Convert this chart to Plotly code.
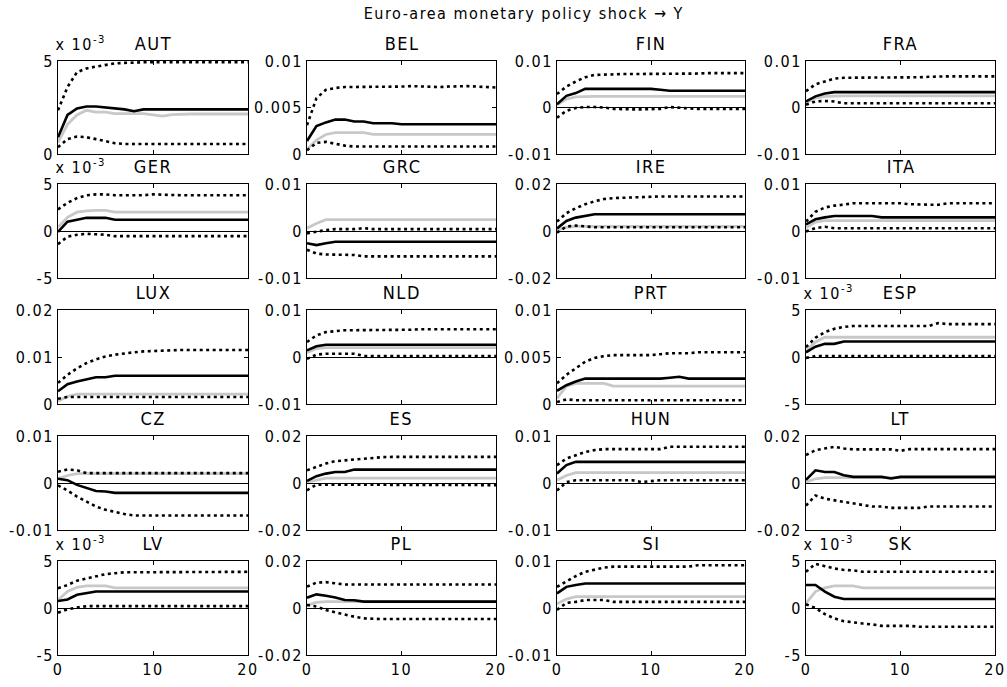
import plotly.graph_objects as go

# ---------------- data (impulse responses, horizons 0..20) ----------------
horizon = list(range(21))

AUT_hi = [2.35e-3, 3.6e-3, 4.4e-3, 4.6e-3, 4.7e-3, 4.8e-3, 4.87e-3, 4.9e-3, 4.93e-3, 4.93e-3, 4.93e-3, 4.93e-3, 4.93e-3, 4.93e-3, 4.93e-3, 4.93e-3, 4.93e-3, 4.93e-3, 4.93e-3, 4.93e-3, 4.93e-3]
AUT_med = [0.9e-3, 2.1e-3, 2.45e-3, 2.55e-3, 2.55e-3, 2.5e-3, 2.45e-3, 2.4e-3, 2.3e-3, 2.4e-3, 2.4e-3, 2.4e-3, 2.4e-3, 2.4e-3, 2.4e-3, 2.4e-3, 2.4e-3, 2.4e-3, 2.4e-3, 2.4e-3, 2.4e-3]
AUT_gray = [0.63e-3, 1.6e-3, 2.1e-3, 2.35e-3, 2.25e-3, 2.25e-3, 2.17e-3, 2.17e-3, 2.17e-3, 2.17e-3, 2.1e-3, 2.04e-3, 2.12e-3, 2.15e-3, 2.15e-3, 2.15e-3, 2.15e-3, 2.15e-3, 2.15e-3, 2.15e-3, 2.15e-3]
AUT_lo = [0.36e-3, 0.8e-3, 0.94e-3, 0.9e-3, 0.8e-3, 0.69e-3, 0.58e-3, 0.54e-3, 0.54e-3, 0.54e-3, 0.54e-3, 0.54e-3, 0.54e-3, 0.54e-3, 0.54e-3, 0.54e-3, 0.54e-3, 0.54e-3, 0.54e-3, 0.54e-3, 0.54e-3]

BEL_hi = [3.1e-3, 6.0e-3, 6.9e-3, 7.1e-3, 7.2e-3, 7.2e-3, 7.2e-3, 7.2e-3, 7.2e-3, 7.2e-3, 7.25e-3, 7.3e-3, 7.25e-3, 7.2e-3, 7.2e-3, 7.25e-3, 7.3e-3, 7.3e-3, 7.25e-3, 7.2e-3, 7.15e-3]
BEL_med = [1.4e-3, 3.0e-3, 3.4e-3, 3.7e-3, 3.7e-3, 3.5e-3, 3.5e-3, 3.3e-3, 3.3e-3, 3.3e-3, 3.2e-3, 3.2e-3, 3.2e-3, 3.2e-3, 3.2e-3, 3.2e-3, 3.2e-3, 3.2e-3, 3.2e-3, 3.2e-3, 3.2e-3]
BEL_gray = [0.5e-3, 1.5e-3, 2.1e-3, 2.3e-3, 2.3e-3, 2.3e-3, 2.3e-3, 2.1e-3, 2.1e-3, 2.1e-3, 2.1e-3, 2.1e-3, 2.1e-3, 2.1e-3, 2.1e-3, 2.1e-3, 2.1e-3, 2.1e-3, 2.1e-3, 2.1e-3, 2.1e-3]
BEL_lo = [0.4e-3, 1.2e-3, 1.3e-3, 1.1e-3, 0.9e-3, 0.8e-3, 0.8e-3, 0.8e-3, 0.8e-3, 0.8e-3, 0.8e-3, 0.8e-3, 0.8e-3, 0.8e-3, 0.8e-3, 0.8e-3, 0.8e-3, 0.8e-3, 0.8e-3, 0.8e-3, 0.8e-3]

FIN_hi = [2.9e-3, 4.5e-3, 5.6e-3, 6.5e-3, 7.0e-3, 7.1e-3, 7.2e-3, 7.2e-3, 7.2e-3, 7.2e-3, 7.2e-3, 7.3e-3, 7.3e-3, 7.3e-3, 7.3e-3, 7.3e-3, 7.4e-3, 7.4e-3, 7.4e-3, 7.4e-3, 7.4e-3]
FIN_med = [0.7e-3, 2.5e-3, 3.1e-3, 4.0e-3, 4.0e-3, 4.0e-3, 4.0e-3, 4.0e-3, 4.0e-3, 4.0e-3, 4.0e-3, 3.8e-3, 3.6e-3, 3.6e-3, 3.6e-3, 3.6e-3, 3.6e-3, 3.6e-3, 3.6e-3, 3.6e-3, 3.6e-3]
FIN_gray = [0.6e-3, 1.8e-3, 2.3e-3, 2.4e-3, 2.4e-3, 2.4e-3, 2.4e-3, 2.4e-3, 2.4e-3, 2.4e-3, 2.4e-3, 2.4e-3, 2.4e-3, 2.4e-3, 2.4e-3, 2.4e-3, 2.4e-3, 2.4e-3, 2.4e-3, 2.4e-3, 2.4e-3]
FIN_lo = [-2.2e-3, -0.7e-3, -0.1e-3, 0.1e-3, 0.1e-3, 0.0, -0.3e-3, -0.4e-3, -0.4e-3, -0.4e-3, -0.4e-3, -0.3e-3, 0.1e-3, -0.1e-3, -0.2e-3, -0.3e-3, -0.3e-3, -0.3e-3, -0.3e-3, -0.3e-3, -0.3e-3]

FRA_hi = [3.5e-3, 5.0e-3, 5.6e-3, 6.2e-3, 6.4e-3, 6.4e-3, 6.4e-3, 6.4e-3, 6.4e-3, 6.4e-3, 6.4e-3, 6.4e-3, 6.5e-3, 6.6e-3, 6.7e-3, 6.7e-3, 6.7e-3, 6.7e-3, 6.7e-3, 6.7e-3, 6.7e-3]
FRA_med = [1.3e-3, 2.4e-3, 3.0e-3, 3.3e-3, 3.3e-3, 3.3e-3, 3.3e-3, 3.3e-3, 3.3e-3, 3.3e-3, 3.3e-3, 3.3e-3, 3.3e-3, 3.3e-3, 3.3e-3, 3.3e-3, 3.3e-3, 3.3e-3, 3.3e-3, 3.3e-3, 3.3e-3]
FRA_gray = [1.1e-3, 2.0e-3, 2.4e-3, 2.5e-3, 2.5e-3, 2.5e-3, 2.5e-3, 2.5e-3, 2.5e-3, 2.5e-3, 2.5e-3, 2.5e-3, 2.5e-3, 2.5e-3, 2.5e-3, 2.5e-3, 2.5e-3, 2.5e-3, 2.5e-3, 2.5e-3, 2.5e-3]
FRA_lo = [0.6e-3, 1.3e-3, 1.4e-3, 1.3e-3, 0.9e-3, 0.9e-3, 0.9e-3, 0.9e-3, 0.9e-3, 0.9e-3, 0.9e-3, 0.9e-3, 0.9e-3, 0.9e-3, 0.9e-3, 0.9e-3, 0.9e-3, 0.9e-3, 0.9e-3, 0.9e-3, 0.9e-3]

GER_hi = [2.3e-3, 3.0e-3, 3.5e-3, 3.8e-3, 3.9e-3, 3.9e-3, 3.8e-3, 3.8e-3, 3.8e-3, 3.8e-3, 3.9e-3, 3.85e-3, 3.8e-3, 3.8e-3, 3.8e-3, 3.8e-3, 3.8e-3, 3.8e-3, 3.8e-3, 3.8e-3, 3.8e-3]
GER_med = [-0.1e-3, 1.0e-3, 1.2e-3, 1.4e-3, 1.4e-3, 1.4e-3, 1.2e-3, 1.2e-3, 1.2e-3, 1.2e-3, 1.2e-3, 1.2e-3, 1.2e-3, 1.2e-3, 1.2e-3, 1.2e-3, 1.2e-3, 1.2e-3, 1.2e-3, 1.2e-3, 1.2e-3]
GER_gray = [0.4e-3, 1.45e-3, 2.0e-3, 2.15e-3, 2.2e-3, 2.2e-3, 2.0e-3, 2.0e-3, 2.0e-3, 2.0e-3, 2.0e-3, 2.0e-3, 2.0e-3, 2.0e-3, 2.0e-3, 2.0e-3, 2.0e-3, 2.0e-3, 2.0e-3, 2.0e-3, 2.0e-3]
GER_lo = [-1.4e-3, -0.6e-3, -0.4e-3, -0.3e-3, -0.35e-3, -0.4e-3, -0.55e-3, -0.55e-3, -0.55e-3, -0.55e-3, -0.55e-3, -0.55e-3, -0.55e-3, -0.55e-3, -0.55e-3, -0.55e-3, -0.55e-3, -0.55e-3, -0.55e-3, -0.55e-3, -0.55e-3]

GRC_hi = [-0.5e-3, -0.1e-3, 0.2e-3, 0.4e-3, 0.4e-3, 0.4e-3, 0.6e-3, 0.4e-3, 0.4e-3, 0.4e-3, 0.4e-3, 0.4e-3, 0.4e-3, 0.4e-3, 0.4e-3, 0.4e-3, 0.4e-3, 0.4e-3, 0.4e-3, 0.4e-3, 0.4e-3]
GRC_med = [-2.6e-3, -3.0e-3, -2.6e-3, -2.3e-3, -2.3e-3, -2.3e-3, -2.3e-3, -2.3e-3, -2.3e-3, -2.3e-3, -2.3e-3, -2.3e-3, -2.3e-3, -2.3e-3, -2.3e-3, -2.3e-3, -2.3e-3, -2.3e-3, -2.3e-3, -2.3e-3, -2.3e-3]
GRC_gray = [0.6e-3, 1.6e-3, 2.4e-3, 2.4e-3, 2.4e-3, 2.4e-3, 2.4e-3, 2.4e-3, 2.4e-3, 2.4e-3, 2.4e-3, 2.4e-3, 2.4e-3, 2.4e-3, 2.4e-3, 2.4e-3, 2.4e-3, 2.4e-3, 2.4e-3, 2.4e-3, 2.4e-3]
GRC_lo = [-4.0e-3, -4.8e-3, -5.0e-3, -5.0e-3, -5.0e-3, -5.1e-3, -5.4e-3, -5.4e-3, -5.4e-3, -5.4e-3, -5.4e-3, -5.4e-3, -5.4e-3, -5.4e-3, -5.4e-3, -5.4e-3, -5.4e-3, -5.4e-3, -5.4e-3, -5.4e-3, -5.4e-3]

IRE_hi = [4.0e-3, 7.6e-3, 9.7e-3, 11.4e-3, 12.6e-3, 13.6e-3, 14.0e-3, 14.2e-3, 14.4e-3, 14.5e-3, 14.7e-3, 14.7e-3, 14.7e-3, 14.7e-3, 14.7e-3, 14.7e-3, 14.7e-3, 14.7e-3, 14.7e-3, 14.7e-3, 14.7e-3]
IRE_med = [1.1e-3, 4.3e-3, 5.7e-3, 6.4e-3, 7.1e-3, 7.1e-3, 7.1e-3, 7.1e-3, 7.1e-3, 7.1e-3, 7.1e-3, 7.1e-3, 7.1e-3, 7.1e-3, 7.1e-3, 7.1e-3, 7.1e-3, 7.1e-3, 7.1e-3, 7.1e-3, 7.1e-3]
IRE_gray = [0.4e-3, 1.6e-3, 2.0e-3, 2.0e-3, 2.0e-3, 2.0e-3, 2.0e-3, 2.0e-3, 2.0e-3, 2.0e-3, 2.0e-3, 2.0e-3, 2.0e-3, 2.0e-3, 2.0e-3, 2.0e-3, 2.0e-3, 2.0e-3, 2.0e-3, 2.0e-3, 2.0e-3]
IRE_lo = [-0.7e-3, 1.9e-3, 2.3e-3, 1.9e-3, 1.6e-3, 1.6e-3, 1.6e-3, 1.6e-3, 1.6e-3, 1.6e-3, 1.6e-3, 1.6e-3, 1.6e-3, 1.6e-3, 1.6e-3, 1.6e-3, 1.6e-3, 1.6e-3, 1.6e-3, 1.6e-3, 1.6e-3]

ITA_hi = [2.0e-3, 4.1e-3, 5.0e-3, 5.4e-3, 5.6e-3, 5.9e-3, 5.9e-3, 5.9e-3, 5.9e-3, 5.9e-3, 5.9e-3, 5.7e-3, 5.6e-3, 5.6e-3, 5.6e-3, 5.9e-3, 5.9e-3, 5.9e-3, 5.9e-3, 5.9e-3, 5.9e-3]
ITA_med = [1.4e-3, 2.5e-3, 2.9e-3, 3.2e-3, 3.2e-3, 3.2e-3, 3.2e-3, 3.2e-3, 2.9e-3, 2.9e-3, 2.9e-3, 2.9e-3, 2.9e-3, 2.9e-3, 2.9e-3, 2.9e-3, 2.9e-3, 2.9e-3, 2.9e-3, 2.9e-3, 2.9e-3]
ITA_gray = [0.7e-3, 1.9e-3, 2.2e-3, 2.2e-3, 2.2e-3, 2.2e-3, 2.2e-3, 2.2e-3, 2.2e-3, 2.2e-3, 2.2e-3, 2.2e-3, 2.2e-3, 2.2e-3, 2.2e-3, 2.2e-3, 2.2e-3, 2.2e-3, 2.2e-3, 2.2e-3, 2.2e-3]
ITA_lo = [-0.1e-3, 0.6e-3, 0.9e-3, 0.6e-3, 0.6e-3, 0.6e-3, 0.6e-3, 0.6e-3, 0.6e-3, 0.6e-3, 0.6e-3, 0.6e-3, 0.6e-3, 0.6e-3, 0.6e-3, 0.6e-3, 0.6e-3, 0.6e-3, 0.6e-3, 0.6e-3, 0.6e-3]

LUX_hi = [4.5e-3, 6.2e-3, 7.6e-3, 8.7e-3, 9.5e-3, 10.1e-3, 10.5e-3, 10.8e-3, 11.0e-3, 11.2e-3, 11.3e-3, 11.4e-3, 11.5e-3, 11.5e-3, 11.5e-3, 11.5e-3, 11.5e-3, 11.5e-3, 11.5e-3, 11.5e-3, 11.5e-3]
LUX_med = [2.7e-3, 4.2e-3, 4.8e-3, 5.3e-3, 5.7e-3, 5.7e-3, 6.0e-3, 6.0e-3, 6.0e-3, 6.0e-3, 6.0e-3, 6.0e-3, 6.0e-3, 6.0e-3, 6.0e-3, 6.0e-3, 6.0e-3, 6.0e-3, 6.0e-3, 6.0e-3, 6.0e-3]
LUX_gray = [0.6e-3, 1.6e-3, 2.1e-3, 2.1e-3, 2.1e-3, 2.1e-3, 2.1e-3, 2.1e-3, 2.1e-3, 2.1e-3, 2.1e-3, 2.1e-3, 2.1e-3, 2.1e-3, 2.1e-3, 2.1e-3, 2.1e-3, 2.1e-3, 2.1e-3, 2.1e-3, 2.1e-3]
LUX_lo = [1.1e-3, 1.5e-3, 1.5e-3, 1.5e-3, 1.5e-3, 1.5e-3, 1.5e-3, 1.5e-3, 1.5e-3, 1.5e-3, 1.5e-3, 1.5e-3, 1.5e-3, 1.5e-3, 1.5e-3, 1.5e-3, 1.5e-3, 1.5e-3, 1.5e-3, 1.5e-3, 1.5e-3]

NLD_hi = [3.2e-3, 4.6e-3, 5.3e-3, 5.5e-3, 5.7e-3, 5.7e-3, 5.7e-3, 5.7e-3, 5.7e-3, 5.7e-3, 5.7e-3, 5.8e-3, 5.9e-3, 5.9e-3, 5.9e-3, 5.9e-3, 5.9e-3, 5.9e-3, 5.9e-3, 5.9e-3, 5.9e-3]
NLD_med = [1.4e-3, 2.3e-3, 2.6e-3, 2.6e-3, 2.6e-3, 2.6e-3, 2.6e-3, 2.6e-3, 2.6e-3, 2.6e-3, 2.6e-3, 2.6e-3, 2.6e-3, 2.6e-3, 2.6e-3, 2.6e-3, 2.6e-3, 2.6e-3, 2.6e-3, 2.6e-3, 2.6e-3]
NLD_gray = [0.9e-3, 1.8e-3, 2.0e-3, 2.0e-3, 2.0e-3, 2.0e-3, 2.0e-3, 2.0e-3, 2.0e-3, 2.0e-3, 2.0e-3, 2.0e-3, 2.0e-3, 2.0e-3, 2.0e-3, 2.0e-3, 2.0e-3, 2.0e-3, 2.0e-3, 2.0e-3, 2.0e-3]
NLD_lo = [-0.4e-3, 0.5e-3, 0.7e-3, 0.7e-3, 0.7e-3, 0.7e-3, 0.2e-3, 0.2e-3, 0.2e-3, 0.2e-3, 0.2e-3, 0.2e-3, 0.2e-3, 0.2e-3, 0.2e-3, 0.2e-3, 0.2e-3, 0.2e-3, 0.2e-3, 0.2e-3, 0.2e-3]

PRT_hi = [2.2e-3, 3.1e-3, 3.8e-3, 4.5e-3, 4.9e-3, 5.1e-3, 5.2e-3, 5.2e-3, 5.2e-3, 5.2e-3, 5.2e-3, 5.3e-3, 5.4e-3, 5.4e-3, 5.4e-3, 5.5e-3, 5.5e-3, 5.5e-3, 5.5e-3, 5.5e-3, 5.5e-3]
PRT_med = [1.4e-3, 2.0e-3, 2.4e-3, 2.7e-3, 2.7e-3, 2.7e-3, 2.7e-3, 2.7e-3, 2.7e-3, 2.7e-3, 2.7e-3, 2.7e-3, 2.8e-3, 2.9e-3, 2.7e-3, 2.7e-3, 2.7e-3, 2.7e-3, 2.7e-3, 2.7e-3, 2.7e-3]
PRT_gray = [0.6e-3, 1.9e-3, 2.2e-3, 2.2e-3, 2.2e-3, 2.2e-3, 1.9e-3, 1.9e-3, 1.9e-3, 1.9e-3, 1.9e-3, 1.9e-3, 1.9e-3, 1.9e-3, 1.9e-3, 1.9e-3, 1.9e-3, 1.9e-3, 1.9e-3, 1.9e-3, 1.9e-3]
PRT_lo = [0.2e-3, 0.5e-3, 0.4e-3, 0.4e-3, 0.4e-3, 0.4e-3, 0.4e-3, 0.4e-3, 0.4e-3, 0.4e-3, 0.4e-3, 0.4e-3, 0.4e-3, 0.4e-3, 0.4e-3, 0.4e-3, 0.4e-3, 0.4e-3, 0.4e-3, 0.4e-3, 0.4e-3]

ESP_hi = [1.05e-3, 2.05e-3, 2.65e-3, 3.0e-3, 3.2e-3, 3.3e-3, 3.3e-3, 3.3e-3, 3.3e-3, 3.3e-3, 3.3e-3, 3.3e-3, 3.3e-3, 3.3e-3, 3.6e-3, 3.5e-3, 3.5e-3, 3.5e-3, 3.5e-3, 3.5e-3, 3.5e-3]
ESP_med = [0.5e-3, 1.1e-3, 1.4e-3, 1.4e-3, 1.65e-3, 1.65e-3, 1.65e-3, 1.65e-3, 1.65e-3, 1.65e-3, 1.65e-3, 1.65e-3, 1.65e-3, 1.65e-3, 1.65e-3, 1.65e-3, 1.65e-3, 1.65e-3, 1.65e-3, 1.65e-3, 1.65e-3]
ESP_gray = [0.65e-3, 1.6e-3, 2.1e-3, 2.1e-3, 2.1e-3, 2.1e-3, 2.1e-3, 2.1e-3, 2.1e-3, 2.1e-3, 2.1e-3, 2.1e-3, 2.1e-3, 2.1e-3, 2.1e-3, 2.1e-3, 2.1e-3, 2.1e-3, 2.1e-3, 2.1e-3, 2.1e-3]
ESP_lo = [-0.1e-3, 0.1e-3, 0.1e-3, 0.1e-3, 0.1e-3, 0.1e-3, 0.1e-3, 0.1e-3, 0.1e-3, 0.1e-3, 0.1e-3, 0.1e-3, 0.1e-3, 0.1e-3, 0.1e-3, 0.1e-3, 0.1e-3, 0.1e-3, 0.1e-3, 0.1e-3, 0.1e-3]

CZ_hi = [2.4e-3, 2.9e-3, 2.7e-3, 2.1e-3, 2.1e-3, 2.1e-3, 2.1e-3, 2.1e-3, 2.1e-3, 2.1e-3, 2.1e-3, 2.1e-3, 2.1e-3, 2.1e-3, 2.1e-3, 2.1e-3, 2.1e-3, 2.1e-3, 2.1e-3, 2.1e-3, 2.1e-3]
CZ_med = [0.9e-3, 0.6e-3, -0.4e-3, -1.1e-3, -1.7e-3, -1.8e-3, -2.1e-3, -2.1e-3, -2.1e-3, -2.1e-3, -2.1e-3, -2.1e-3, -2.1e-3, -2.1e-3, -2.1e-3, -2.1e-3, -2.1e-3, -2.1e-3, -2.1e-3, -2.1e-3, -2.1e-3]
CZ_gray = [0.9e-3, 1.6e-3, 2.0e-3, 2.0e-3, 2.0e-3, 2.0e-3, 2.0e-3, 2.0e-3, 2.0e-3, 2.0e-3, 2.0e-3, 2.0e-3, 2.0e-3, 2.0e-3, 2.0e-3, 2.0e-3, 2.0e-3, 2.0e-3, 2.0e-3, 2.0e-3, 2.0e-3]
CZ_lo = [-0.5e-3, -1.6e-3, -2.9e-3, -4.0e-3, -5.0e-3, -5.7e-3, -6.2e-3, -6.6e-3, -6.9e-3, -6.9e-3, -6.9e-3, -6.9e-3, -6.9e-3, -6.9e-3, -6.9e-3, -6.9e-3, -6.9e-3, -6.9e-3, -6.9e-3, -6.9e-3, -6.9e-3]

ES_hi = [5.4e-3, 6.9e-3, 8.3e-3, 9.3e-3, 9.7e-3, 10.0e-3, 10.4e-3, 10.7e-3, 11.0e-3, 11.1e-3, 11.1e-3, 11.1e-3, 11.1e-3, 11.1e-3, 11.1e-3, 11.1e-3, 11.1e-3, 11.1e-3, 11.1e-3, 11.1e-3, 11.1e-3]
ES_med = [0.9e-3, 2.9e-3, 4.0e-3, 4.7e-3, 4.7e-3, 5.7e-3, 5.7e-3, 5.7e-3, 5.7e-3, 5.7e-3, 5.7e-3, 5.7e-3, 5.7e-3, 5.7e-3, 5.7e-3, 5.7e-3, 5.7e-3, 5.7e-3, 5.7e-3, 5.7e-3, 5.7e-3]
ES_gray = [0.4e-3, 1.4e-3, 2.1e-3, 2.1e-3, 2.1e-3, 2.1e-3, 2.1e-3, 2.1e-3, 2.1e-3, 2.1e-3, 2.1e-3, 2.1e-3, 2.1e-3, 2.1e-3, 2.1e-3, 2.1e-3, 2.1e-3, 2.1e-3, 2.1e-3, 2.1e-3, 2.1e-3]
ES_lo = [-3.1e-3, -0.7e-3, -0.7e-3, -0.7e-3, -0.7e-3, -0.7e-3, -0.7e-3, -0.7e-3, -0.7e-3, -0.7e-3, -0.7e-3, -0.7e-3, -0.7e-3, -0.7e-3, -0.7e-3, -0.8e-3, -0.8e-3, -0.9e-3, -0.9e-3, -0.9e-3, -0.9e-3]

HUN_hi = [3.8e-3, 5.2e-3, 5.9e-3, 6.6e-3, 7.0e-3, 7.2e-3, 7.2e-3, 7.2e-3, 7.2e-3, 7.2e-3, 7.2e-3, 7.2e-3, 7.7e-3, 7.7e-3, 7.7e-3, 7.7e-3, 7.7e-3, 7.7e-3, 7.7e-3, 7.7e-3, 7.7e-3]
HUN_med = [2.0e-3, 3.8e-3, 4.5e-3, 4.5e-3, 4.5e-3, 4.5e-3, 4.5e-3, 4.5e-3, 4.5e-3, 4.5e-3, 4.5e-3, 4.5e-3, 4.5e-3, 4.5e-3, 4.5e-3, 4.5e-3, 4.5e-3, 4.5e-3, 4.5e-3, 4.5e-3, 4.5e-3]
HUN_gray = [0.6e-3, 1.6e-3, 2.2e-3, 2.2e-3, 2.2e-3, 2.2e-3, 2.2e-3, 2.2e-3, 2.2e-3, 2.2e-3, 2.2e-3, 2.2e-3, 2.2e-3, 2.2e-3, 2.2e-3, 2.2e-3, 2.2e-3, 2.2e-3, 2.2e-3, 2.2e-3, 2.2e-3]
HUN_lo = [-1.6e-3, 0.2e-3, 0.6e-3, 0.6e-3, 0.6e-3, 0.6e-3, 0.6e-3, 0.6e-3, 0.6e-3, 0.2e-3, 0.4e-3, 0.6e-3, 0.6e-3, 0.6e-3, 0.6e-3, 0.6e-3, 0.6e-3, 0.6e-3, 0.6e-3, 0.6e-3, 0.6e-3]

LT_hi = [11.9e-3, 14.0e-3, 14.7e-3, 15.4e-3, 14.7e-3, 14.3e-3, 14.3e-3, 14.3e-3, 14.3e-3, 14.3e-3, 13.7e-3, 14.4e-3, 14.4e-3, 14.4e-3, 14.4e-3, 14.4e-3, 14.4e-3, 14.4e-3, 14.4e-3, 14.4e-3, 14.4e-3]
LT_med = [1.4e-3, 5.4e-3, 4.7e-3, 4.7e-3, 3.3e-3, 2.6e-3, 2.6e-3, 2.6e-3, 2.6e-3, 1.9e-3, 2.6e-3, 2.6e-3, 2.6e-3, 2.6e-3, 2.6e-3, 2.6e-3, 2.6e-3, 2.6e-3, 2.6e-3, 2.6e-3, 2.6e-3]
LT_gray = [0.4e-3, 1.8e-3, 2.3e-3, 2.3e-3, 2.3e-3, 2.3e-3, 2.3e-3, 2.3e-3, 2.3e-3, 2.3e-3, 2.3e-3, 2.3e-3, 2.3e-3, 2.3e-3, 2.3e-3, 2.3e-3, 2.3e-3, 2.3e-3, 2.3e-3, 2.3e-3, 2.3e-3]
LT_lo = [-9.6e-3, -5.3e-3, -6.7e-3, -7.4e-3, -8.1e-3, -8.9e-3, -9.6e-3, -10.0e-3, -10.0e-3, -10.6e-3, -10.6e-3, -10.6e-3, -10.6e-3, -10.0e-3, -10.0e-3, -10.0e-3, -10.0e-3, -10.0e-3, -10.0e-3, -10.0e-3, -10.0e-3]

LV_hi = [2.1e-3, 2.45e-3, 2.9e-3, 3.15e-3, 3.4e-3, 3.6e-3, 3.7e-3, 3.8e-3, 3.8e-3, 3.8e-3, 3.8e-3, 3.8e-3, 3.85e-3, 3.85e-3, 3.85e-3, 3.85e-3, 3.85e-3, 3.85e-3, 3.85e-3, 3.85e-3, 3.85e-3]
LV_med = [0.75e-3, 0.9e-3, 1.4e-3, 1.55e-3, 1.75e-3, 1.75e-3, 1.75e-3, 1.75e-3, 1.75e-3, 1.75e-3, 1.75e-3, 1.75e-3, 1.75e-3, 1.75e-3, 1.75e-3, 1.75e-3, 1.75e-3, 1.75e-3, 1.75e-3, 1.75e-3, 1.75e-3]
LV_gray = [0.85e-3, 1.75e-3, 2.2e-3, 2.35e-3, 2.35e-3, 2.35e-3, 2.15e-3, 2.15e-3, 2.15e-3, 2.15e-3, 2.15e-3, 2.15e-3, 2.15e-3, 2.15e-3, 2.15e-3, 2.15e-3, 2.15e-3, 2.15e-3, 2.15e-3, 2.15e-3, 2.15e-3]
LV_lo = [-0.5e-3, -0.15e-3, 0.05e-3, 0.2e-3, 0.2e-3, 0.2e-3, 0.2e-3, 0.2e-3, 0.2e-3, 0.2e-3, 0.2e-3, 0.2e-3, 0.2e-3, 0.2e-3, 0.2e-3, 0.2e-3, 0.2e-3, 0.2e-3, 0.2e-3, 0.2e-3, 0.2e-3]

PL_hi = [9.1e-3, 10.8e-3, 11.0e-3, 10.5e-3, 10.0e-3, 10.0e-3, 10.0e-3, 10.0e-3, 10.0e-3, 10.0e-3, 10.0e-3, 10.0e-3, 10.0e-3, 10.0e-3, 10.0e-3, 10.0e-3, 10.0e-3, 10.0e-3, 10.0e-3, 10.0e-3, 10.0e-3]
PL_med = [4.4e-3, 5.8e-3, 5.2e-3, 4.5e-3, 3.4e-3, 3.3e-3, 2.7e-3, 2.7e-3, 2.7e-3, 2.7e-3, 2.7e-3, 2.7e-3, 2.7e-3, 2.7e-3, 2.7e-3, 2.7e-3, 2.7e-3, 2.7e-3, 2.7e-3, 2.7e-3, 2.7e-3]
PL_gray = [1.2e-3, 2.4e-3, 2.7e-3, 2.7e-3, 2.7e-3, 2.7e-3, 2.7e-3, 2.7e-3, 2.7e-3, 2.7e-3, 2.7e-3, 2.7e-3, 2.7e-3, 2.7e-3, 2.7e-3, 2.7e-3, 2.7e-3, 2.7e-3, 2.7e-3, 2.7e-3, 2.7e-3]
PL_lo = [1.3e-3, 0.6e-3, -0.9e-3, -1.8e-3, -3.0e-3, -3.7e-3, -4.4e-3, -4.7e-3, -4.7e-3, -4.7e-3, -4.7e-3, -4.7e-3, -4.7e-3, -4.7e-3, -4.7e-3, -4.7e-3, -4.7e-3, -4.7e-3, -4.7e-3, -4.7e-3, -4.7e-3]

SI_hi = [4.5e-3, 5.7e-3, 6.8e-3, 7.7e-3, 8.2e-3, 8.6e-3, 8.8e-3, 8.8e-3, 8.8e-3, 8.8e-3, 8.8e-3, 8.8e-3, 8.8e-3, 8.8e-3, 8.8e-3, 9.1e-3, 9.1e-3, 9.1e-3, 9.1e-3, 9.1e-3, 9.1e-3]
SI_med = [3.1e-3, 4.5e-3, 4.9e-3, 5.2e-3, 5.2e-3, 5.2e-3, 5.2e-3, 5.2e-3, 5.2e-3, 5.2e-3, 5.2e-3, 5.2e-3, 5.2e-3, 5.2e-3, 5.2e-3, 5.2e-3, 5.2e-3, 5.2e-3, 5.2e-3, 5.2e-3, 5.2e-3]
SI_gray = [0.9e-3, 1.9e-3, 2.4e-3, 2.4e-3, 2.4e-3, 2.4e-3, 2.4e-3, 2.4e-3, 2.4e-3, 2.4e-3, 2.4e-3, 2.4e-3, 2.4e-3, 2.4e-3, 2.4e-3, 2.4e-3, 2.4e-3, 2.4e-3, 2.4e-3, 2.4e-3, 2.4e-3]
SI_lo = [-0.4e-3, 1.1e-3, 1.3e-3, 1.7e-3, 1.7e-3, 1.7e-3, 1.3e-3, 1.3e-3, 1.3e-3, 1.3e-3, 1.3e-3, 1.3e-3, 1.3e-3, 1.3e-3, 1.3e-3, 1.3e-3, 1.3e-3, 1.3e-3, 1.3e-3, 1.3e-3, 1.3e-3]

SK_hi = [3.85e-3, 4.7e-3, 4.45e-3, 4.2e-3, 4.05e-3, 4.0e-3, 3.85e-3, 3.85e-3, 3.85e-3, 3.85e-3, 3.85e-3, 3.85e-3, 3.85e-3, 3.85e-3, 3.85e-3, 3.85e-3, 3.85e-3, 3.85e-3, 3.85e-3, 3.85e-3, 3.85e-3]
SK_med = [2.45e-3, 2.45e-3, 1.75e-3, 1.2e-3, 0.95e-3, 0.95e-3, 0.95e-3, 0.95e-3, 0.95e-3, 0.95e-3, 0.95e-3, 0.95e-3, 0.95e-3, 0.95e-3, 0.95e-3, 0.95e-3, 0.95e-3, 0.95e-3, 0.95e-3, 0.95e-3, 0.95e-3]
SK_gray = [0.5e-3, 1.75e-3, 2.15e-3, 2.35e-3, 2.35e-3, 2.35e-3, 2.15e-3, 2.15e-3, 2.15e-3, 2.15e-3, 2.15e-3, 2.15e-3, 2.15e-3, 2.15e-3, 2.15e-3, 2.15e-3, 2.15e-3, 2.15e-3, 2.15e-3, 2.15e-3, 2.15e-3]
SK_lo = [0.4e-3, 0.0, -0.65e-3, -1.1e-3, -1.4e-3, -1.55e-3, -1.65e-3, -1.75e-3, -1.9e-3, -1.9e-3, -1.9e-3, -1.9e-3, -2.0e-3, -2.0e-3, -2.0e-3, -2.0e-3, -2.0e-3, -2.0e-3, -2.0e-3, -2.0e-3, -2.0e-3]

countries = ["AUT", "BEL", "FIN", "FRA",
             "GER", "GRC", "IRE", "ITA",
             "LUX", "NLD", "PRT", "ESP",
             "CZ", "ES", "HUN", "LT",
             "LV", "PL", "SI", "SK"]

# y-axis scale per panel
scale_of = {
    "AUT": "pos5e3", "BEL": "pos01", "FIN": "pm01", "FRA": "pm01",
    "GER": "pm5e3", "GRC": "pm01", "IRE": "pm02", "ITA": "pm01",
    "LUX": "pos02", "NLD": "pm01", "PRT": "pos01", "ESP": "pm5e3",
    "CZ": "pm01", "ES": "pm02", "HUN": "pm01", "LT": "pm02",
    "LV": "pm5e3", "PL": "pm02", "SI": "pm01", "SK": "pm5e3",
}
axis_specs = {
    "pos5e3": ([0, 0.005], [0, 0.005], ["0", "5"], True),
    "pm5e3": ([-0.005, 0.005], [-0.005, 0, 0.005], ["-5", "0", "5"], True),
    "pos01": ([0, 0.01], [0, 0.005, 0.01], ["0", "0.005", "0.01"], False),
    "pm01": ([-0.01, 0.01], [-0.01, 0, 0.01], ["-0.01", "0", "0.01"], False),
    "pm02": ([-0.02, 0.02], [-0.02, 0, 0.02], ["-0.02", "0", "0.02"], False),
    "pos02": ([0, 0.02], [0, 0.01, 0.02], ["0", "0.01", "0.02"], False),
}
x_ticks = [0, 10, 20]
x_labels = ["0", "10", "20"]

series = {c: (globals()[c + "_hi"], globals()[c + "_med"], globals()[c + "_gray"], globals()[c + "_lo"]) for c in countries}

# ---------------- layout geometry (pixels) ----------------
W, H = 1007, 687
col_px = [(58, 248), (307, 496), (557, 745), (806, 995)]
row_px = [(61, 154), (184, 278), (310, 404), (436, 530), (561, 655)]

FONT = "Liberation Sans Narrow, Arial Narrow, DejaVu Sans Condensed, sans-serif"
GRAY = "#c8c8c8"

fig = go.Figure()
layout = dict(
    template="none",
    width=W, height=H, margin=dict(l=0, r=0, t=0, b=0, pad=0), autosize=False,
    paper_bgcolor="white", plot_bgcolor="white", showlegend=False,
    font=dict(family=FONT, size=16, color="black"),
)
annotations = []

for i, c in enumerate(countries):
    r, k = divmod(i, 4)
    n = i + 1
    xs = "x" if n == 1 else f"x{n}"
    ys = "y" if n == 1 else f"y{n}"
    xkey = "xaxis" if n == 1 else f"xaxis{n}"
    ykey = "yaxis" if n == 1 else f"yaxis{n}"
    x0, x1 = col_px[k]
    y0, y1 = row_px[r]
    rng, tv, tt, exp = axis_specs[scale_of[c]]

    layout[xkey] = dict(
        domain=[x0 / W, x1 / W], anchor=ys, range=[0, 20], automargin=False,
        tickmode="array", tickvals=x_ticks, ticktext=x_labels,
        showticklabels=(r == 4), ticks="inside", ticklen=4, tickcolor="black", tickwidth=1,
        showline=True, linecolor="black", linewidth=1, mirror="ticks",
        showgrid=False, zeroline=False,
        tickfont=dict(family=FONT, size=16, color="black"),
    )
    layout[ykey] = dict(
        domain=[1 - y1 / H, 1 - y0 / H], anchor=xs, range=rng, automargin=False,
        tickmode="array", tickvals=tv, ticktext=tt,
        ticks="inside", ticklen=4, tickcolor="black", tickwidth=1,
        showline=True, linecolor="black", linewidth=1, mirror="ticks",
        showgrid=False, zeroline=True, zerolinecolor="black", zerolinewidth=1.3,
        tickfont=dict(family=FONT, size=16, color="black"),
    )

    hi, med, gr, lo = series[c]
    fig.add_trace(go.Scatter(x=horizon, y=gr, mode="lines", xaxis=xs, yaxis=ys,
                             line=dict(color=GRAY, width=2.8), hoverinfo="skip"))
    for b in (hi, lo):
        fig.add_trace(go.Scatter(x=horizon, y=b, mode="lines", xaxis=xs, yaxis=ys,
                                 line=dict(color="black", width=2.6, dash="3px,3.5px"),
                                 hoverinfo="skip"))
    fig.add_trace(go.Scatter(x=horizon, y=med, mode="lines", xaxis=xs, yaxis=ys,
                             line=dict(color="black", width=2.6), hoverinfo="skip"))

    annotations.append(dict(
        text=c, xref="paper", yref="paper", x=(x0 + x1) / 2 / W, y=1 - (y0 - 5) / H,
        xanchor="center", yanchor="bottom", showarrow=False,
        font=dict(family=FONT, size=18, color="black"),
    ))
    if exp:
        annotations.append(dict(
            text="x 10<sup>-3</sup>", xref="paper", yref="paper", x=x0 / W, y=1 - (y0 - 5) / H,
            xanchor="left", yanchor="bottom", showarrow=False,
            font=dict(family=FONT, size=16, color="black"),
        ))

annotations.append(dict(
    text="Euro-area monetary policy shock \u2192 Y", xref="paper", yref="paper",
    x=524 / W, y=1 - 2 / H, xanchor="center", yanchor="top", showarrow=False,
    font=dict(family=FONT, size=16, color="black"),
))
layout["annotations"] = annotations
fig.update_layout(**layout)

post = """
(function(){
  document.documentElement.style.margin = '0';
  document.body.style.margin = '0';
  document.body.style.padding = '0';
  var gd = document.getElementById('{plot_id}');
  function sp(){ document.querySelectorAll('.main-svg text').forEach(function(t){ t.style.letterSpacing = '1.5px'; }); }
  sp();
  if (gd && gd.on) { gd.on('plotly_afterplot', sp); }
})();
"""
fig.write_html("out.html", post_script=post, config={"displayModeBar": False})
